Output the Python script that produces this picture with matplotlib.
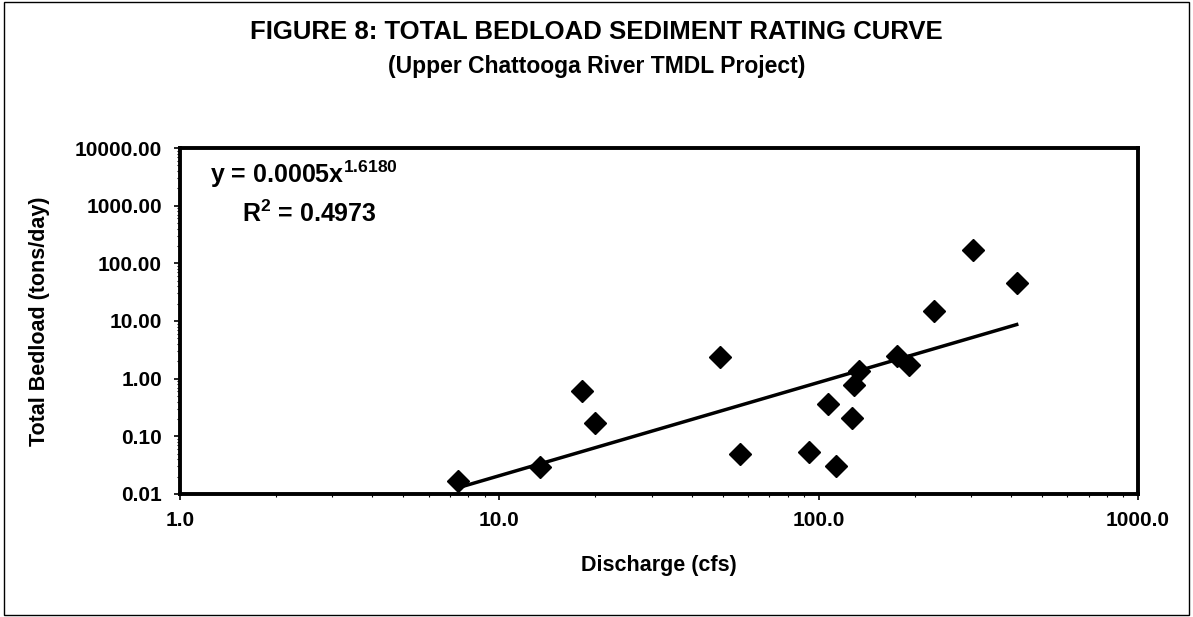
import numpy as np
import matplotlib
matplotlib.use("Agg")
import matplotlib.pyplot as plt
from matplotlib.patches import Rectangle
from matplotlib.ticker import FixedLocator, FormatStrFormatter, LogLocator, NullFormatter

plt.rcParams['font.family'] = ['Liberation Sans', 'DejaVu Sans']
plt.rcParams['font.weight'] = 'bold'
plt.rcParams['mathtext.fontset'] = 'custom'
plt.rcParams['mathtext.rm'] = 'Liberation Sans:bold'
plt.rcParams['mathtext.bf'] = 'Liberation Sans:bold'

# data
discharge = [7.4, 13.4, 18.1, 19.9, 49.1, 56.7, 93.5, 107.2, 113.4,
             127.5, 129.4, 133.8, 175.7, 192.3, 229.8, 305.0, 417.0]
bedload = [0.017, 0.029, 0.62, 0.17, 2.35, 0.049, 0.054, 0.36, 0.031,
           0.21, 0.79, 1.38, 2.5, 1.75, 15.2, 168.0, 46.0]

# power trendline shown on the chart
fit_a = 0.0005
fit_b = 1.6180
fit_r2 = 0.4973

x_ticks = [1.0, 10.0, 100.0, 1000.0]
y_ticks = [0.01, 0.1, 1.0, 10.0, 100.0, 1000.0, 10000.0]

fig = plt.figure(figsize=(11.93, 6.17), dpi=100)
ax = fig.add_axes([0.1509, 0.1994, 0.803, 0.5607])

ax.plot(discharge, bedload, linestyle='none', marker='D', markersize=11.5,
        color='black', zorder=3)

xs = np.array([min(discharge), max(discharge)])
ax.plot(xs, fit_a * xs ** fit_b, color='black', linewidth=2.5, zorder=4)

ax.set_xscale('log')
ax.set_yscale('log')
ax.set_xlim(1.0, 1000.0)
ax.set_ylim(0.01, 10000.0)

ax.xaxis.set_major_locator(FixedLocator(x_ticks))
ax.yaxis.set_major_locator(FixedLocator(y_ticks))
ax.xaxis.set_major_formatter(FormatStrFormatter('%.1f'))
ax.yaxis.set_major_formatter(FormatStrFormatter('%.2f'))
ax.xaxis.set_minor_locator(LogLocator(base=10, subs=np.arange(2, 10)))
ax.yaxis.set_minor_locator(LogLocator(base=10, subs=np.arange(2, 10)))
ax.xaxis.set_minor_formatter(NullFormatter())
ax.yaxis.set_minor_formatter(NullFormatter())

ax.tick_params(which='major', direction='out', length=4, width=1.2,
               labelsize=15, pad=8)
ax.tick_params(axis='y', which='major', pad=9)
ax.tick_params(which='minor', direction='out', length=2.5, width=0.8)
for lab in ax.get_xticklabels() + ax.get_yticklabels():
    lab.set_fontweight('bold')

for sp in ax.spines.values():
    sp.set_linewidth(2.8)

# trendline equation
ax.text(0.0313, 0.925, r'y = 0.0005x$^{1.6180}$', transform=ax.transAxes,
        fontsize=18, va='center')
ax.text(0.065, 0.81, r'R$^{2}$ = %.4f' % fit_r2, transform=ax.transAxes,
        fontsize=18, va='center')

fig.text(0.5, 0.948, 'FIGURE 8: TOTAL BEDLOAD SEDIMENT RATING CURVE',
         ha='center', va='center', fontsize=18.5, fontweight='bold')
fig.text(0.5, 0.893, '(Upper Chattooga River TMDL Project)',
         ha='center', va='center', fontsize=16.5, fontweight='bold')
fig.text(0.552, 0.084, 'Discharge (cfs)', ha='center', va='center',
         fontsize=15.5, fontweight='bold')
fig.text(0.0335, 0.48, 'Total Bedload (tons/day)', ha='center', va='center',
         rotation=90, fontsize=15.5, fontweight='bold')

# thin frame round the whole chart
fig.patches.append(Rectangle((0.0035, 0.003), 0.9935, 0.993,
                             transform=fig.transFigure, fill=False,
                             edgecolor='black', linewidth=1.0))

fig.savefig('out.png', dpi=100, facecolor='white')
